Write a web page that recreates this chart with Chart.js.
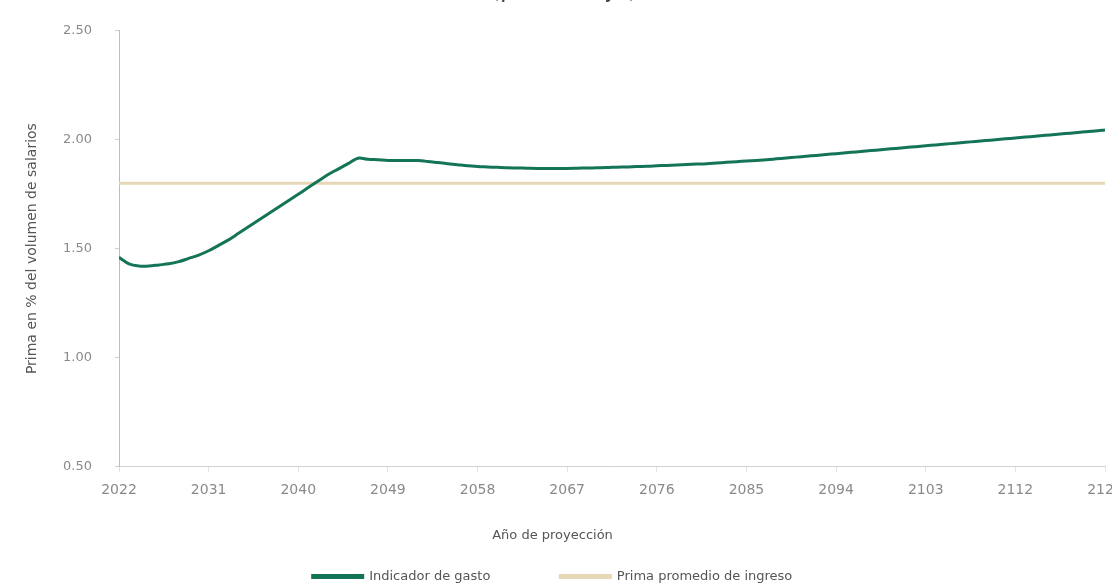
<!DOCTYPE html>
<html>
<head>
<meta charset="utf-8">
<script src="https://cdn.jsdelivr.net/npm/chart.js@4.4.1/dist/chart.umd.min.js"></script>
<style>
  html, body { margin: 0; padding: 0; background: #fff; }
  .wrap { width: 1112px; height: 583px; }
</style>
</head>
<body>
<div class="wrap"><canvas id="prima_chart"></canvas></div>
<script>
/*_____________________DATA____________________*/

const years = [
  2022, 2023, 2024, 2025, 2026, 2027, 2028, 2029, 2030, 2031,
  2032, 2033, 2034, 2035, 2036, 2037, 2038, 2039, 2040, 2041,
  2042, 2043, 2044, 2045, 2046, 2047, 2048, 2049, 2050, 2051,
  2052, 2053, 2054, 2055, 2056, 2057, 2058, 2059, 2060, 2061,
  2062, 2063, 2064, 2065, 2066, 2067, 2068, 2069, 2070, 2071,
  2072, 2073, 2074, 2075, 2076, 2077, 2078, 2079, 2080, 2081,
  2082, 2083, 2084, 2085, 2086, 2087, 2088, 2089, 2090, 2091,
  2092, 2093, 2094, 2095, 2096, 2097, 2098, 2099, 2100, 2101,
  2102, 2103, 2104, 2105, 2106, 2107, 2108, 2109, 2110, 2111,
  2112, 2113, 2114, 2115, 2116, 2117, 2118, 2119, 2120, 2121
];

const indicadorGasto = [
  1.46, 1.43, 1.42, 1.42, 1.425, 1.43, 1.44, 1.455, 1.47, 1.49,
  1.515, 1.54, 1.57, 1.60, 1.63, 1.66, 1.69, 1.72, 1.75, 1.78,
  1.81, 1.84, 1.865, 1.89, 1.915, 1.91, 1.908, 1.905, 1.905, 1.905,
  1.904, 1.90, 1.895, 1.89, 1.885, 1.88, 1.877, 1.875, 1.873, 1.871,
  1.87, 1.869, 1.868, 1.868, 1.868, 1.868, 1.869, 1.87, 1.871, 1.872,
  1.874, 1.875, 1.877, 1.878, 1.88, 1.882, 1.884, 1.886, 1.888, 1.89,
  1.893, 1.896, 1.899, 1.902, 1.905, 1.908, 1.912, 1.916, 1.92, 1.924,
  1.928, 1.932, 1.936, 1.94, 1.944, 1.948, 1.952, 1.956, 1.96, 1.964,
  1.968, 1.972, 1.976, 1.98, 1.984, 1.988, 1.992, 1.996, 2.0, 2.004,
  2.008, 2.012, 2.016, 2.02, 2.024, 2.028, 2.032, 2.036, 2.04, 2.045
];

// flat line, only the two ends are needed
const primaYears = [2022, 2121];
const primaPromedio = [1.80, 1.80];

const xTicks = [2022, 2031, 2040, 2049, 2058, 2067, 2076, 2085, 2094, 2103, 2112, 2121];
const yTicks = [0.5, 1.0, 1.5, 2.0, 2.5];

const subTitle = '(porcentaje)';
const FONT = '"DejaVu Sans", sans-serif';

/*_____________________PLUGINS____________________*/

// the picture is cropped: only the bottom of the heading shows
const cutTitle = {
  id: 'cutTitle',
  afterDraw(chart) {
    const ctx = chart.ctx;
    ctx.save();
    ctx.font = '24px ' + FONT;
    ctx.fillStyle = '#444';
    ctx.textAlign = 'center';
    ctx.textBaseline = 'alphabetic';
    ctx.fillText(subTitle, 564, -3);
    ctx.restore();
  }
};

// wide gap between legend items needs big padding, pull the legend back up
// (legend clips to its own box, so stretch the box to the bottom too)
const legendUp = {
  id: 'legendUp',
  afterLayout(chart) {
    const shift = 53;
    chart.legend.top -= shift;
    chart.legend.bottom = chart.height;
  }
};

/*_____________________CHART____________________*/

const prima_chart = document.getElementById('prima_chart');
new Chart(prima_chart, {
  type: 'line',
  data: {
    datasets: [
      {
        label: 'Indicador de gasto',
        data: years.map((y, i) => ({x: y, y: indicadorGasto[i]})),
        borderColor: '#147457',
        backgroundColor: '#147457',
        borderWidth: 3,
        pointRadius: 0,
        tension: 0.3,
      },
      {
        label: 'Prima promedio de ingreso',
        data: primaYears.map((y, i) => ({x: y, y: primaPromedio[i]})),
        borderColor: '#e6d8b6',
        backgroundColor: '#e6d8b6',
        borderWidth: 3,
        pointRadius: 0,
      }
    ]
  },
  options: {
    responsive: true,
    maintainAspectRatio: false,
    animation: false,
    layout: {padding: {top: 30, right: 7, bottom: 0, left: 0}},
    plugins: {
      legend: {
        position: 'bottom',
        maxHeight: 30,
        labels: {
          boxWidth: 50,
          boxHeight: 2,
          padding: 70,
          color: '#555',
          font: {family: FONT, size: 13},
        }
      },
      title: {
        display: true,
        text: 'Año de proyección',
        position: 'bottom',
        weight: 500,
        color: '#555',
        font: {family: FONT, size: 13, weight: 'normal'},
        padding: {top: 22, bottom: 10},
      },
      tooltip: {enabled: false},
    },
    scales: {
      x: {
        type: 'linear',
        min: 2022,
        max: 2121,
        afterBuildTicks: (axis) => { axis.ticks = xTicks.map(v => ({value: v})); },
        afterFit: (axis) => { axis.height = 39; axis.paddingLeft = 0; axis.paddingRight = 0; },
        ticks: {
          autoSkip: false,
          maxRotation: 0,
          padding: 10,
          color: '#8a8a8a',
          font: {family: FONT, size: 14},
          callback: (v) => String(v),
        },
        grid: {drawOnChartArea: false, tickLength: 6, color: '#e2e2e2'},
        border: {color: '#d2d2d2'},
      },
      y: {
        min: 0.5,
        max: 2.5,
        afterBuildTicks: (axis) => { axis.ticks = yTicks.map(v => ({value: v})); },
        afterFit: (axis) => { axis.width = 119; },
        ticks: {
          padding: 23,
          color: '#8a8a8a',
          font: {family: FONT, size: 13},
          callback: (v) => v.toFixed(2),
        },
        grid: {drawOnChartArea: false, tickLength: 4, color: '#cfcfcf'},
        border: {color: '#bdbdbd'},
        title: {
          display: true,
          text: 'Prima en % del volumen de salarios',
          color: '#555',
          font: {family: FONT, size: 14},
          padding: {top: 24, bottom: 0},
        }
      }
    }
  },
  plugins: [cutTitle, legendUp],
});
</script>
</body>
</html>
